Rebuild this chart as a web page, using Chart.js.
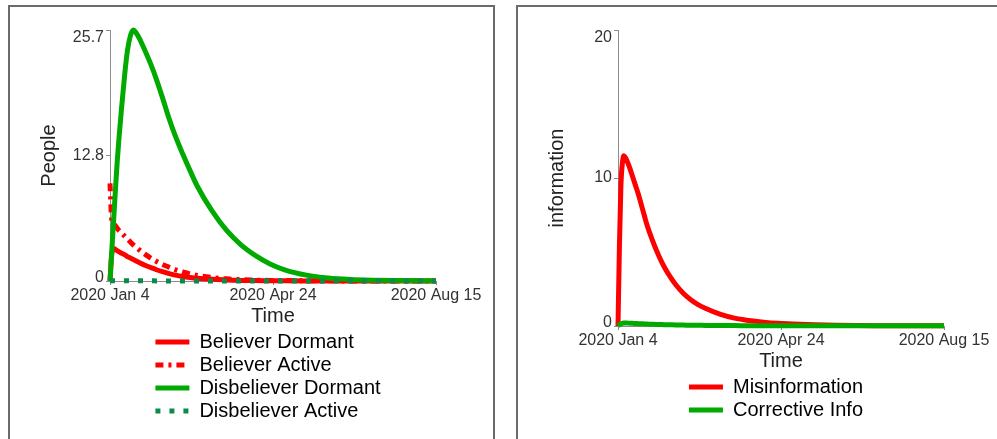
<!DOCTYPE html>
<html lang="en">
<head>
<meta charset="UTF-8">
<title>Misinformation spread</title>
<script src="https://cdn.jsdelivr.net/npm/chart.js"></script>
<style>
  body { margin: 0; background: #fff; overflow: hidden; }
  .panel { position: absolute; top: 5px; width: 483px; height: 440px; border: 2px solid #6b6b6b; background: #fff; }
  canvas { display: block; }
</style>
</head>
<body>
<div class="panel" style="left: 8px"><canvas id="peopleChart" width="483" height="432"></canvas></div>
<div class="panel" style="left: 516px"><canvas id="infoChart" width="483" height="432"></canvas></div>
<script>
// days since 2020 Jan 4
const days = [0, 1, 2, 3, 4, 5, 6, 8, 10, 12, 14, 16, 18, 20, 24, 28, 32, 36, 40, 45, 50, 55, 60, 70, 80, 90, 100, 110, 120, 135, 150, 165, 180, 200, 224];
const xTickDays = [0, 112, 224];
const xTickLabels = ['2020 Jan 4', '2020 Apr 24', '2020 Aug 15'];

// left chart: people
const believerDormant = [0, 2.4, 3.3, 3.3, 3.2, 3.1, 3.0, 2.85, 2.7, 2.5, 2.35, 2.2, 2.05, 1.9, 1.62, 1.38, 1.15, 0.95, 0.78, 0.6, 0.46, 0.36, 0.28, 0.17, 0.1, 0.06, 0.04, 0.03, 0.02, 0.01, 0.01, 0.01, 0, 0, 0];
const believerActive = [10, 6.6, 6.0, 5.8, 5.6, 5.4, 5.2, 4.9, 4.6, 4.3, 4.0, 3.7, 3.45, 3.2, 2.75, 2.35, 2.0, 1.7, 1.45, 1.15, 0.92, 0.72, 0.57, 0.36, 0.22, 0.14, 0.09, 0.06, 0.04, 0.03, 0.02, 0.01, 0.01, 0.01, 0];
const disbelieverDormant = [0, 2.5, 5, 7.5, 10, 12.3, 14.3, 17.8, 21.0, 23.6, 25.1, 25.7, 25.4, 24.9, 23.6, 22.2, 20.6, 18.8, 16.9, 14.8, 13.0, 11.3, 9.7, 7.2, 5.2, 3.7, 2.6, 1.75, 1.15, 0.6, 0.3, 0.15, 0.08, 0.04, 0.02];
const disbelieverActive = [0, 0.02, 0.03, 0.03, 0.03, 0.03, 0.03, 0.03, 0.03, 0.03, 0.02, 0.02, 0.02, 0.02, 0.02, 0.02, 0.01, 0.01, 0.01, 0.01, 0.01, 0.01, 0, 0, 0, 0, 0, 0, 0, 0, 0, 0, 0, 0, 0];
const peopleTicks = [0, 12.85, 25.7];
const peopleTickLabels = ['0', '12.8', '25.7'];

// right chart: information
const misinformation = [0, 5.5, 9.5, 11.0, 11.5, 11.4, 11.2, 10.7, 10.1, 9.5, 8.9, 8.2, 7.5, 6.8, 5.7, 4.75, 3.95, 3.3, 2.75, 2.2, 1.78, 1.45, 1.2, 0.8, 0.53, 0.37, 0.26, 0.18, 0.13, 0.08, 0.05, 0.03, 0.02, 0.01, 0.01];
const correctiveInfo = [0, 0.1, 0.15, 0.18, 0.2, 0.2, 0.2, 0.19, 0.18, 0.17, 0.16, 0.15, 0.14, 0.13, 0.11, 0.1, 0.09, 0.08, 0.07, 0.06, 0.05, 0.05, 0.04, 0.03, 0.03, 0.02, 0.02, 0.02, 0.01, 0.01, 0.01, 0.01, 0.01, 0.01, 0.01];
const infoTicks = [0, 10, 20];
const infoTickLabels = ['0', '10', '20'];

const RED = '#ff0000';
const GREEN = '#00aa00';
const DARK_GREEN = '#0b8a48';
const AXIS = '#8c8c8c';

Chart.defaults.font.family = "'Liberation Sans', Arial, sans-serif";
Chart.defaults.color = '#222';

function pts(vals) {
    return days.map((d, i) => ({ x: d, y: vals[i] }));
}

function line(label, vals, color, dash, order) {
    return {
        label: label,
        data: pts(vals),
        borderColor: color,
        backgroundColor: color,
        borderWidth: 5,
        borderDash: dash,
        borderCapStyle: 'butt',
        pointRadius: 0,
        cubicInterpolationMode: 'monotone',
        fill: false,
        clip: false,
        order: order
    };
}

// puts the legend column under the middle of the plot, rows left aligned
const legendColumn = {
    id: 'legendColumn',
    afterLayout(chart) {
        const lg = chart.legend;
        const pad = lg.options.labels.padding;
        const widest = Math.max(...lg.lineWidths) - pad;
        const mid = (chart.chartArea.left + chart.chartArea.right) / 2;
        lg.left = mid - widest / 2 - pad - 5;
    }
};

function makeChart(id, datasets, yTitle, yMax, yTicks, yLabels, bottomPad) {
    const last = yTicks.length - 1;
    return new Chart(document.getElementById(id), {
        type: 'line',
        data: { datasets: datasets },
        plugins: [legendColumn],
        options: {
            responsive: false,
            animation: false,
            layout: { padding: { left: 23, top: 23, right: 57, bottom: bottomPad } },
            plugins: {
                tooltip: { enabled: false },
                legend: {
                    position: 'bottom',
                    align: 'start',
                    fullSize: false,
                    labels: {
                        usePointStyle: true,
                        pointStyleWidth: 34,
                        padding: 3,
                        color: '#222',
                        font: { size: 20 },
                        generateLabels: chart => chart.data.datasets.map((ds, i) => ({
                            text: ds.label,
                            strokeStyle: ds.borderColor,
                            fillStyle: ds.borderColor,
                            lineWidth: 5,
                            lineDash: ds.borderDash || [],
                            lineCap: 'butt',
                            pointStyle: 'line',
                            datasetIndex: i,
                            hidden: false
                        }))
                    }
                }
            },
            scales: {
                x: {
                    type: 'linear',
                    min: 0,
                    max: 224,
                    afterBuildTicks: axis => { axis.ticks = xTickDays.map(v => ({ value: v })); },
                    ticks: {
                        color: '#333',
                        padding: 3,
                        maxRotation: 0,
                        font: { size: 16, lineHeight: 1 },
                        callback: (v, i) => xTickLabels[i]
                    },
                    grid: { drawOnChartArea: false, drawTicks: true, tickLength: 4, color: AXIS },
                    border: { display: true, color: AXIS },
                    title: { display: true, text: 'Time', color: '#222', font: { size: 20 }, padding: { top: -3, bottom: 1 } }
                },
                y: {
                    min: 0,
                    max: yMax,
                    afterBuildTicks: axis => { axis.ticks = yTicks.map(v => ({ value: v })); },
                    afterFit: axis => { axis.width = 77; },
                    ticks: {
                        color: '#333',
                        padding: 2,
                        // end labels sit inside the axis span, as in the original
                        font: ctx => ({ size: 16, lineHeight: ctx.index === last ? 0.9 : (ctx.index === 0 ? 0.45 : 1.2) }),
                        callback: (v, i) => i === last ? ['', yLabels[i]] : (i === 0 ? [yLabels[i], ''] : yLabels[i])
                    },
                    grid: { drawOnChartArea: false, drawTicks: true, tickLength: 4, color: AXIS },
                    border: { display: true, color: AXIS },
                    title: { display: true, text: yTitle, color: '#222', font: { size: 20 }, padding: { top: 4, bottom: 4 } }
                }
            }
        }
    });
}

makeChart('peopleChart', [
    line('Believer Dormant', believerDormant, RED, [], 4),
    line('Believer Active', believerActive, RED, [8, 5, 3, 5], 3),
    line('Disbeliever Dormant', disbelieverDormant, GREEN, [], 2),
    line('Disbeliever Active', disbelieverActive, DARK_GREEN, [5, 9], 1)
], 'People', 25.7, peopleTicks, peopleTickLabels, 8);

makeChart('infoChart', [
    line('Misinformation', misinformation, RED, [], 2),
    line('Corrective Info', correctiveInfo, GREEN, [], 1)
], 'information', 20, infoTicks, infoTickLabels, 9);
</script>
</body>
</html>
